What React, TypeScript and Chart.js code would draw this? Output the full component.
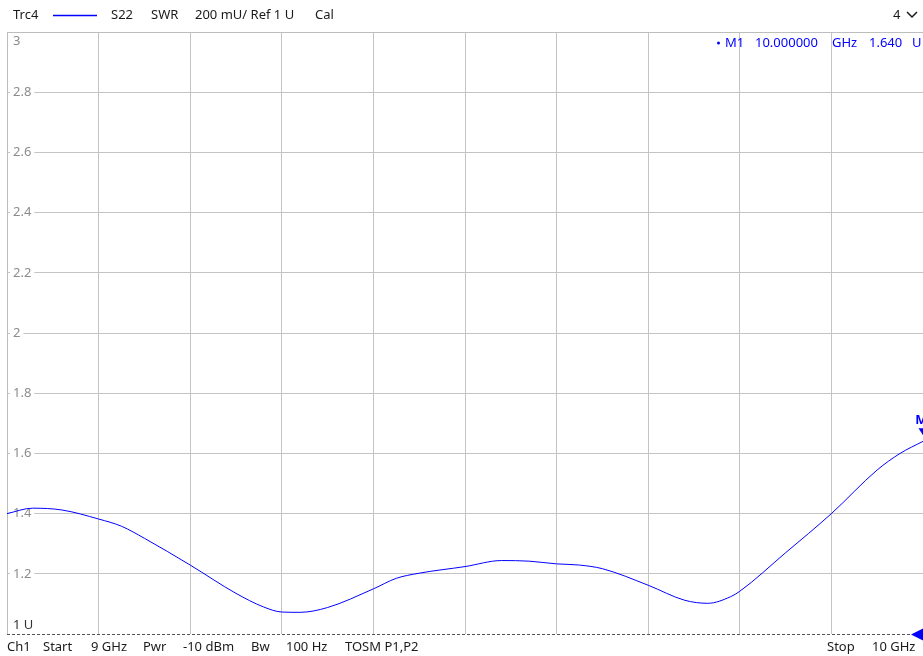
import React, { useEffect, useRef } from "react";
import { Chart, registerables } from "chart.js";

Chart.register(...registerables);

// Frequency (GHz) and SWR values
const freqGHz = [
  9.0, 9.028, 9.06, 9.1, 9.125, 9.15, 9.2, 9.25, 9.28, 9.3, 9.32, 9.35, 9.4,
  9.425, 9.45, 9.5, 9.54, 9.57, 9.6, 9.625, 9.65, 9.7, 9.74, 9.765, 9.79, 9.8,
  9.85, 9.9, 9.95, 9.975, 10.0,
];
const swr = [
  1.4, 1.418, 1.412, 1.382, 1.358, 1.318, 1.229, 1.135, 1.09, 1.073, 1.072,
  1.088, 1.15, 1.185, 1.202, 1.224, 1.244, 1.242, 1.233, 1.229, 1.217, 1.162,
  1.112, 1.102, 1.124, 1.142, 1.27, 1.4, 1.545, 1.6, 1.64,
];
const yTickLabels = ["1 U", "1.2", "1.4", "1.6", "1.8", "2", "2.2", "2.4", "2.6", "2.8", "3"];
const yTickValues = [1, 1.2, 1.4, 1.6, 1.8, 2, 2.2, 2.4, 2.6, 2.8, 3];
const markerFreq = 10.0;
const markerValue = 1.64;

const FONT = '"Noto Sans", "DejaVu Sans", sans-serif';
const BLUE = "#0000ff";

const overlayPlugin = {
  id: "overlay",
  beforeDatasetsDraw(chart: any) {
    const { ctx, chartArea: ca, scales } = chart;
    const ys = scales.y;
    ctx.save();
    // left / top borders
    ctx.strokeStyle = "#bdbdbd";
    ctx.lineWidth = 1;
    ctx.beginPath();
    ctx.moveTo(ca.left + 0.5, ca.top);
    ctx.lineTo(ca.left + 0.5, ca.bottom);
    ctx.moveTo(ca.left, ca.top + 0.5);
    ctx.lineTo(ca.right, ca.top + 0.5);
    ctx.stroke();
    // dashed bottom line
    ctx.strokeStyle = "#555555";
    ctx.setLineDash([3, 2]);
    ctx.beginPath();
    ctx.moveTo(ca.left, ca.bottom + 0.5);
    ctx.lineTo(ca.right, ca.bottom + 0.5);
    ctx.stroke();
    ctx.setLineDash([]);
    // tick labels inside plot
    ctx.font = `13px ${FONT}`;
    ctx.textAlign = "left";
    yTickValues.forEach((v, i) => {
      const label = yTickLabels[i];
      let y = ys.getPixelForValue(v);
      if (i === yTickValues.length - 1) y = ca.top + 9;
      if (i === 0) y = ca.bottom - 9;
      const w = ctx.measureText(label).width;
      if (i !== 0 && i !== yTickValues.length - 1) {
        ctx.fillStyle = "#ffffff";
        ctx.fillRect(ca.left + 3, y - 2, w + 6, 4);
      }
      ctx.fillStyle = i === 0 ? "#333333" : "#8c8c8c";
      ctx.textBaseline = "middle";
      ctx.fillText(label, ca.left + 6, y);
    });
    ctx.restore();
  },
  afterDraw(chart: any) {
    const { ctx, chartArea: ca, scales } = chart;
    const xs = scales.x;
    const ys = scales.y;
    ctx.save();
    ctx.font = `13px ${FONT}`;
    ctx.textBaseline = "middle";
    ctx.textAlign = "left";
    // header
    ctx.fillStyle = "#1a1a1a";
    const hy = 15;
    ctx.fillText("Trc4", 13, hy);
    ctx.strokeStyle = BLUE;
    ctx.lineWidth = 1.5;
    ctx.beginPath();
    ctx.moveTo(53, hy + 0.5);
    ctx.lineTo(97, hy + 0.5);
    ctx.stroke();
    ctx.fillText("S22", 111, hy);
    ctx.fillText("SWR", 151, hy);
    ctx.fillText("200 mU/ Ref 1 U", 195, hy);
    ctx.fillText("Cal", 315, hy);
    ctx.fillText("4", 893, hy);
    // chevron
    ctx.strokeStyle = "#1a1a1a";
    ctx.lineWidth = 1.5;
    ctx.beginPath();
    ctx.moveTo(907, hy - 3);
    ctx.lineTo(912, hy + 2);
    ctx.lineTo(917, hy - 3);
    ctx.stroke();
    // marker info
    ctx.fillStyle = BLUE;
    const my = 43;
    ctx.beginPath();
    ctx.arc(718.5, my, 1.5, 0, Math.PI * 2);
    ctx.fill();
    ctx.fillText("M1", 725, my);
    ctx.fillText("10.000000", 755, my);
    ctx.fillText("GHz", 832, my);
    ctx.fillText("1.640", 869, my);
    ctx.fillText("U", 912, my);
    // footer
    ctx.fillStyle = "#1a1a1a";
    const fy = 647;
    ctx.fillText("Ch1", 7, fy);
    ctx.fillText("Start", 43, fy);
    ctx.fillText("9 GHz", 91, fy);
    ctx.fillText("Pwr", 143, fy);
    ctx.fillText("-10 dBm", 183, fy);
    ctx.fillText("Bw", 251, fy);
    ctx.fillText("100 Hz", 286, fy);
    ctx.fillText("TOSM P1,P2", 345, fy);
    ctx.fillText("Stop", 827, fy);
    ctx.fillText("10 GHz", 872, fy);
    // stop triangle
    ctx.fillStyle = BLUE;
    ctx.beginPath();
    ctx.moveTo(911, ca.bottom + 0.5);
    ctx.lineTo(924, ca.bottom - 6);
    ctx.lineTo(924, ca.bottom + 7);
    ctx.closePath();
    ctx.fill();
    // marker triangle and label
    const mx = xs.getPixelForValue(markerFreq);
    const mpy = ys.getPixelForValue(markerValue);
    ctx.beginPath();
    ctx.moveTo(mx - 4.5, mpy - 13);
    ctx.lineTo(mx + 4.5, mpy - 13);
    ctx.lineTo(mx, mpy - 6);
    ctx.closePath();
    ctx.fill();
    ctx.font = `bold 13px ${FONT}`;
    ctx.textAlign = "center";
    ctx.fillText("M1", mx + 2, mpy - 21);
    ctx.restore();
  },
};

export default function App() {
  const canvasRef = useRef<HTMLCanvasElement | null>(null);

  useEffect(() => {
    document.body.style.margin = "0";
    document.body.style.overflow = "hidden";
    const canvas = canvasRef.current;
    if (!canvas) return;
    const chart = new Chart(canvas, {
      type: "line",
      data: {
        datasets: [
          {
            data: freqGHz.map((f, i) => ({ x: f, y: swr[i] })),
            borderColor: BLUE,
            borderWidth: 1,
            pointRadius: 0,
            cubicInterpolationMode: "monotone",
            fill: false,
          },
        ],
      },
      options: {
        responsive: false,
        animation: false,
        layout: { padding: { left: 7, top: 32, right: 0, bottom: 22 } },
        plugins: { legend: { display: false }, tooltip: { enabled: false } },
        scales: {
          x: {
            type: "linear",
            min: 9,
            max: 10,
            ticks: { display: false, stepSize: 0.1 },
            grid: {
              color: (c: any) =>
                c.tick && (c.tick.value <= 9.001 || c.tick.value >= 9.999) ? "rgba(0,0,0,0)" : "#c4c4c4",
              drawTicks: false,
              lineWidth: 1,
            },
            border: { display: false },
          },
          y: {
            type: "linear",
            min: 1,
            max: 3,
            ticks: { display: false, stepSize: 0.2 },
            grid: {
              color: (c: any) =>
                c.tick && (c.tick.value <= 1.001 || c.tick.value >= 2.999) ? "rgba(0,0,0,0)" : "#c4c4c4",
              drawTicks: false,
              lineWidth: 1,
            },
            border: { display: false },
          },
        },
      },
      plugins: [overlayPlugin],
    } as any);
    return () => chart.destroy();
  }, []);

  return (
    <div style={{ width: 923, height: 656, background: "#ffffff" }}>
      <canvas ref={canvasRef} width={923} height={656} style={{ display: "block" }} />
    </div>
  );
}
